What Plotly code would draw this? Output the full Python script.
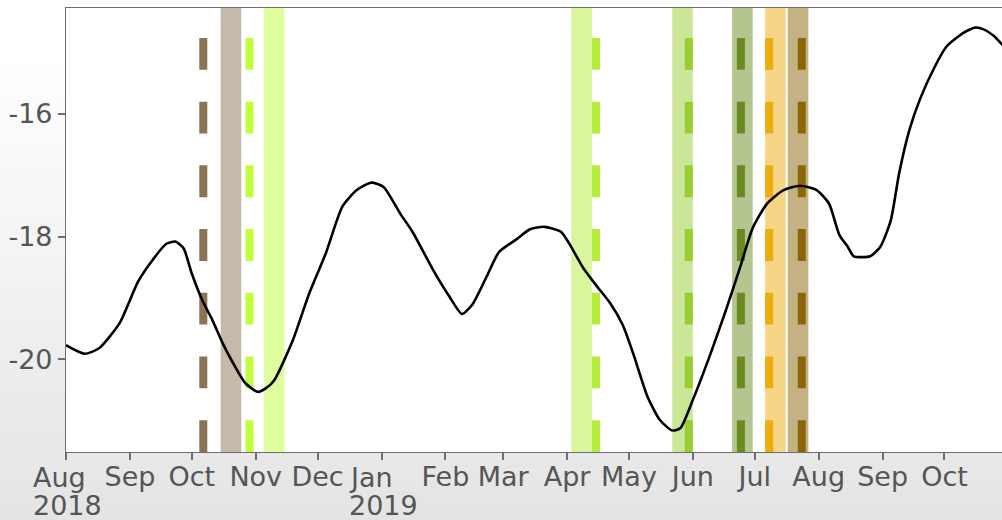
import plotly.graph_objects as go

# Smoothed series
dates = [
    "2018-08-01", "2018-08-10", "2018-08-17", "2018-08-27", "2018-09-05", "2018-09-12",
    "2018-09-18 12:00", "2018-09-23", "2018-09-27", "2018-10-01", "2018-10-06", "2018-10-11",
    "2018-10-16", "2018-10-21", "2018-10-27", "2018-11-02", "2018-11-06", "2018-11-10",
    "2018-11-19", "2018-11-27", "2018-12-05", "2018-12-13", "2018-12-20", "2018-12-27",
    "2019-01-02", "2019-01-10", "2019-01-16", "2019-01-26", "2019-02-03", "2019-02-09",
    "2019-02-14", "2019-02-21", "2019-02-27", "2019-03-08", "2019-03-14", "2019-03-21",
    "2019-03-29", "2019-04-02", "2019-04-09", "2019-04-15", "2019-04-22", "2019-04-28",
    "2019-05-03", "2019-05-10", "2019-05-16", "2019-05-22", "2019-05-26", "2019-06-01",
    "2019-06-09", "2019-06-17", "2019-06-24", "2019-06-30", "2019-07-07", "2019-07-15",
    "2019-07-23", "2019-07-31", "2019-08-06", "2019-08-11", "2019-08-15", "2019-08-18",
    "2019-08-26", "2019-08-31", "2019-09-05", "2019-09-09", "2019-09-14", "2019-09-19",
    "2019-09-26", "2019-10-02", "2019-10-10", "2019-10-16", "2019-10-20", "2019-10-25",
    "2019-10-29", "2019-11-03",
]
values = [
    -19.77, -19.91, -19.82, -19.41, -18.73, -18.38,
    -18.12, -18.08, -18.19, -18.60, -19.03, -19.36,
    -19.74, -20.06, -20.39, -20.53, -20.47, -20.34,
    -19.69, -18.92, -18.27, -17.51, -17.24, -17.12,
    -17.19, -17.62, -17.92, -18.54, -18.98, -19.26,
    -19.11, -18.65, -18.25, -18.03, -17.88, -17.84,
    -17.92, -18.11, -18.52, -18.79, -19.09, -19.44,
    -19.90, -20.61, -20.99, -21.16, -21.12, -20.66,
    -19.96, -19.20, -18.49, -17.86, -17.46, -17.24,
    -17.17, -17.24, -17.46, -17.97, -18.16, -18.32,
    -18.32, -18.16, -17.73, -16.97, -16.26, -15.77,
    -15.25, -14.90, -14.68, -14.59, -14.62, -14.73,
    -14.87, -15.05,
]

# Event dates (dashed markers) and their surrounding windows (shaded bands)
event_dates = ["2018-10-06 14:00", "2018-10-29", "2019-04-15", "2019-05-30",
               "2019-06-24 07:00", "2019-07-08", "2019-07-23 19:00"]
window_starts = ["2018-10-15", "2018-11-05", "2019-04-03", "2019-05-22",
                 "2019-06-20", "2019-07-06", "2019-07-17"]
window_ends = ["2018-10-25", "2018-11-15", "2019-04-13", "2019-06-01",
               "2019-06-30", "2019-07-16", "2019-07-27"]
event_colors = ["#8B7355", "#C0FF3E", "#B3EE3A", "#9ACD32", "#698B22", "#EEAD0E", "#8B6508"]

# Axis ticks
month_ticks = ["2018-08-01", "2018-09-01", "2018-10-01", "2018-11-01", "2018-12-01",
               "2019-01-01", "2019-02-01", "2019-03-01", "2019-04-01", "2019-05-01",
               "2019-06-01", "2019-07-01", "2019-08-01", "2019-09-01", "2019-10-01"]
month_labels = ["", "Sep", "Oct", "Nov", "Dec", "", "Feb", "Mar", "Apr", "May",
                "Jun", "Jul", "Aug", "Sep", "Oct"]
year_ticks = ["2018-08-01", "2019-01-01"]
year_months = ["Aug", "Jan"]
year_labels = ["2018", "2019"]
y_ticks = [-20, -18, -16]
y_labels = ["-20", "-18", "-16"]

x_range = ["2018-08-01", "2019-10-28 21:36"]
y_range = [-21.511, -14.272]

W, H = 1002, 520
ML, MR, MT, MB = 66, 0, 8, 68
pw, ph = W - ML - MR, H - MT - MB
TXT = "#555555"
AX = "#6e6e6e"


def hex_rgba(h, a):
    h = h.lstrip("#")
    r, g, b = int(h[0:2], 16), int(h[2:4], 16), int(h[4:6], 16)
    return f"rgba({r},{g},{b},{a})"


shapes = []

# soft vertical background gradient behind everything
g_top, g_bot = 58, H
n = 46
for i in range(n):
    p0 = g_top + (g_bot - g_top) * i / n
    p1 = g_top + (g_bot - g_top) * (i + 1) / n
    t = (i + 0.5) / n
    c = round(255 - 27 * t)
    shapes.append(dict(
        type="rect", xref="paper", yref="paper", layer="below",
        x0=-ML / pw - 0.01, x1=1.01,
        y0=(H - MB - p1) / ph, y1=(H - MB - p0) / ph + 0.001,
        fillcolor=f"rgb({c},{c},{c})", line=dict(width=0),
    ))

# white plotting area
shapes.append(dict(type="rect", xref="paper", yref="paper", layer="below",
                   x0=0, x1=1.01, y0=0, y1=1, fillcolor="white", line=dict(width=0)))

# shaded windows
for s, e, c in zip(window_starts, window_ends, event_colors):
    shapes.append(dict(type="rect", xref="x", yref="paper", layer="below",
                       x0=s, x1=e, y0=0, y1=1,
                       fillcolor=hex_rgba(c, 0.5), line=dict(width=0)))

# dashed event markers
for d, c in zip(event_dates, event_colors):
    shapes.append(dict(type="line", xref="x", yref="paper", layer="below",
                       x0=d, x1=d, y0=0, y1=1,
                       line=dict(color=c, width=8, dash="31.85px,31.85px")))

fig = go.Figure()
fig.add_trace(go.Scatter(x=dates, y=values, mode="lines",
                         line=dict(color="black", width=2.6, shape="spline", smoothing=0.6),
                         showlegend=False, hoverinfo="skip"))

# month + year labels under the first tick of each year, left-aligned as a block
annotations = []
for xt, m, yl in zip(year_ticks, year_months, year_labels):
    annotations.append(dict(x=xt, xref="x", y=0, yref="paper", text=m,
                            xanchor="left", yanchor="top", xshift=-33, yshift=-10,
                            borderpad=0, borderwidth=0,
                            showarrow=False, font=dict(size=27, color=TXT)))
    annotations.append(dict(x=xt, xref="x", y=0, yref="paper", text=yl,
                            xanchor="left", yanchor="top", xshift=-33, yshift=-38,
                            borderpad=0, borderwidth=0,
                            showarrow=False, font=dict(size=27, color=TXT)))

fig.update_layout(
    width=W, height=H,
    margin=dict(l=ML, r=MR, t=MT, b=MB, autoexpand=False),
    paper_bgcolor="white", plot_bgcolor="rgba(0,0,0,0)",
    font=dict(family="DejaVu Sans", size=27, color=TXT),
    shapes=shapes, annotations=annotations, showlegend=False,
    xaxis=dict(type="date", range=x_range, tickmode="array",
               tickvals=month_ticks, ticktext=month_labels,
               showgrid=False, zeroline=False, showline=True, mirror=True,
               linecolor=AX, linewidth=1.2,
               ticks="outside", ticklen=7, tickwidth=1.5, tickcolor=AX,
               ticklabelstandoff=-7,
               tickfont=dict(size=27, color=TXT), automargin=False),
    yaxis=dict(range=y_range, tickmode="array", tickvals=y_ticks, ticktext=y_labels,
               showgrid=False, zeroline=False, showline=True, mirror=False,
               linecolor=AX, linewidth=1.2,
               ticks="outside", ticklen=7, tickwidth=1.5, tickcolor=AX,
               tickfont=dict(size=27, color=TXT), automargin=False),
)

fig.write_html("out.html")
